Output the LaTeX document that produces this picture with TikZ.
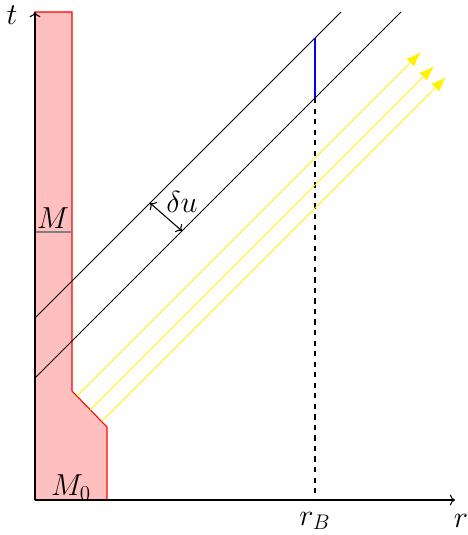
\documentclass[tikz,border=0pt]{standalone}
\usetikzlibrary{arrows.meta}
\begin{document}
\begin{tikzpicture}[font=\LARGE,line width=0.6pt,
  ray/.style={yellow,-{Latex[length=3mm,width=2.2mm]}},
  wall/.style={draw=red,fill=red!25}]
\useasboundingbox (-0.7,-0.7) rectangle (8.66,10);
\draw[wall] (0,0) -- (0,9.76) -- (0.74,9.76) -- (0.74,2.18) -- (1.44,1.46) -- (1.44,0) -- cycle;
\draw[gray] (0,5.36) -- (0.74,5.36);
\node[above] (lblM) at (0.36,5.3) {$M$};
\node[anchor=base] (lblM0) at (0.72,0.08) {$M_0$};
% axes
\coordinate (o) at (0,0);
\coordinate (ttop) at (0,9.76);
\coordinate (rend) at (8.4,0);
\draw[->] (o) -- (ttop);
\draw[->] (o) -- (rend);
\node (tlbl) at (-0.46,9.7) {$t$};
\node (rlbl) at (8.52,-0.42) {$r$};
% null lines
\coordinate (a1) at (0,3.64);
\coordinate (a2) at (6.12,9.76);
\coordinate (b1) at (0,2.44);
\coordinate (b2) at (7.32,9.76);
\draw (a1) -- (a2);
\draw (b1) -- (b2);
\coordinate (du1) at (2.3,5.94);
\coordinate (du2) at (2.94,5.38);
\draw[<->] (du1) -- (du2);
\node (dulbl) at (2.94,5.96) {$\delta u$};
% r_B
\coordinate (bt) at (5.6,9.24);
\coordinate (bb) at (5.6,8.04);
\coordinate (b0) at (5.6,0);
\draw[blue] (bt) -- (bb);
\draw[dashed] (bb) -- (b0);
\node (rBlbl) at (5.6,-0.42) {$r_B$};
% outgoing rays
\foreach \x/\y [count=\i] in {0.84/2.08, 1.1/1.8, 1.34/1.58} {
  \coordinate (y\i) at (\x,\y);
  \coordinate (z\i) at (\x+6.88,\y+6.88);
  \draw[ray] (y\i) -- (z\i);
}
\end{tikzpicture}
\end{document}
